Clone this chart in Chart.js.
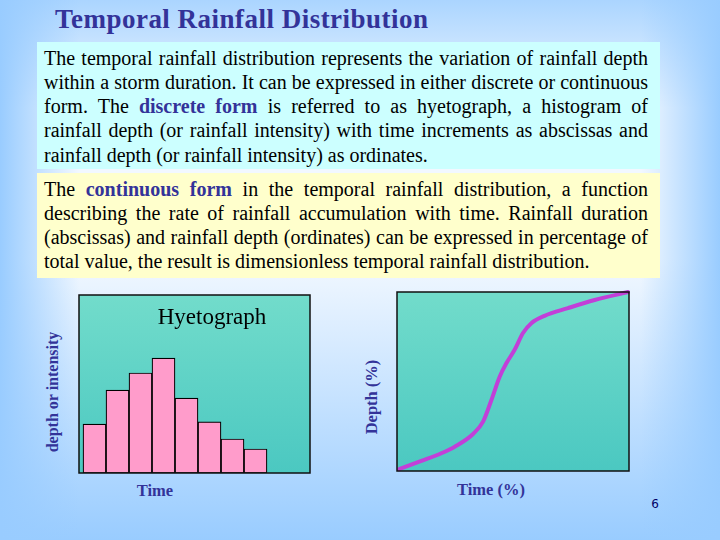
<!DOCTYPE html>
<html><head><meta charset="utf-8">
<script src="https://cdn.jsdelivr.net/npm/chart.js@4.4.1/dist/chart.umd.min.js"></script>
<style>
html,body{margin:0;padding:0;}
body{width:720px;height:540px;position:relative;overflow:hidden;
 background:
  linear-gradient(to right, rgba(153,204,255,1) 0%, rgba(153,204,255,0) 11%, rgba(153,204,255,0) 89%, rgba(153,204,255,1) 100%),
  linear-gradient(to bottom, rgba(153,204,255,0.8) 0%, rgba(153,204,255,0) 20%, rgba(153,204,255,0) 48%, rgba(153,204,255,1) 100%),
  #f2f8ff;
 font-family:"Liberation Serif","Times New Roman",serif;}
.abs{position:absolute;white-space:nowrap;}
#title{left:55px;top:4px;font-size:27px;font-weight:bold;color:#333399;line-height:30px;}
.box{position:absolute;left:37px;width:623px;}
#box1{top:42px;height:127px;background:#ccffff;}
#box2{top:173px;height:105px;background:#ffffcc;}
.ln{position:absolute;left:44px;width:604px;height:24px;line-height:24px;font-size:20px;color:#000;white-space:nowrap;}
.kw{color:#333399;font-weight:bold;}
.axt{position:absolute;white-space:nowrap;font-weight:bold;color:#333399;font-size:16.5px;transform:translate(-50%,-50%);}
.rot{transform:translate(-50%,-50%) rotate(-90deg);}
canvas{position:absolute;}
</style></head>
<body>
<div id="title" class="abs">Temporal Rainfall Distribution</div>
<div id="box1" class="box"></div>
<div id="box2" class="box"></div>
<div class="ln j" style="top:46px"><span>The temporal rainfall distribution represents the variation of rainfall depth</span></div>
<div class="ln j" style="top:70px"><span>within a storm duration. It can be expressed in either discrete or continuous</span></div>
<div class="ln j" style="top:94px"><span>form. The <span class="kw">discrete form</span> is referred to as hyetograph, a histogram of</span></div>
<div class="ln j" style="top:118px"><span>rainfall depth (or rainfall intensity) with time increments as abscissas and</span></div>
<div class="ln" style="top:143px"><span>rainfall depth (or rainfall intensity) as ordinates.</span></div>
<div class="ln j" style="top:177px"><span>The <span class="kw">continuous form</span> in the temporal rainfall distribution, a function</span></div>
<div class="ln j" style="top:201px"><span>describing the rate of rainfall accumulation with time. Rainfall duration</span></div>
<div class="ln j" style="top:225px"><span>(abscissas) and rainfall depth (ordinates) can be expressed in percentage of</span></div>
<div class="ln" style="top:249px"><span>total value, the result is dimensionless temporal rainfall distribution.</span></div>

<canvas id="c1" width="243" height="190" style="left:73px;top:289px;width:243px;height:190px"></canvas>
<canvas id="c2" width="244" height="191" style="left:391px;top:286px;width:244px;height:191px"></canvas>

<div class="abs" style="left:212px;top:317px;transform:translate(-50%,-50%);font-size:23px;color:#000;">Hyetograph</div>
<div class="axt rot" style="left:53px;top:392px;font-size:16px;">depth or intensity</div>
<div class="axt" style="left:155px;top:491px;">Time</div>
<div class="axt rot" style="left:372px;top:397px;">Depth (%)</div>
<div class="axt" style="left:491px;top:490px;">Time (%)</div>
<div class="abs" style="left:655px;top:504px;transform:translate(-50%,-50%);font-family:'DejaVu Sans',sans-serif;font-size:12px;color:#000066;">6</div>

<script>
// Hyetograph data (time increments and rainfall depth, relative units)
const timeSteps = [1, 2, 3, 4, 5, 6, 7, 8];
const rainDepth = [27.5, 46.6, 56.2, 64.6, 42.1, 28.7, 19.1, 13.5];
// Dimensionless cumulative curve (time % vs depth %)
const timePct  = [0.9, 10.5, 19.1, 24.9, 32.8, 37.1, 40.7, 44.3, 47.2, 50.7, 54.3, 57.9, 63.6, 73.7, 85.2, 99.6];
const depthPct = [1.0, 5.6, 9.9, 13.6, 20.7, 27.6, 39.7, 52.8, 60.3, 67.7, 77.1, 82.6, 86.7, 91.0, 95.5, 100];

// justify lines
document.querySelectorAll('.j').forEach(el => {
  const span = el.firstElementChild;
  const w = span.getBoundingClientRect().width;
  const spaces = (span.textContent.match(/ /g) || []).length;
  span.style.wordSpacing = ((604 - w) / spaces) + 'px';
});
(function(){
  const t = document.getElementById('title');
  const w = t.getBoundingClientRect().width;
  t.style.letterSpacing = ((373 - w) / (t.textContent.length - 1)) + 'px';
})();

const framePlugin = {
  id: 'frame',
  beforeDraw(c) {
    const {ctx, chartArea: {left, top, right, bottom}} = c;
    const g = ctx.createLinearGradient(0, top, 0, bottom);
    g.addColorStop(0, '#72dccb');
    g.addColorStop(1, '#4bc8c1');
    ctx.save();
    ctx.fillStyle = g;
    ctx.fillRect(left, top, right - left, bottom - top);
    ctx.restore();
  },
  afterDraw(c) {
    const {ctx, chartArea: {left, top, right, bottom}} = c;
    ctx.save();
    ctx.strokeStyle = '#111';
    ctx.lineWidth = 1.5;
    ctx.strokeRect(left, top, right - left, bottom - top);
    ctx.restore();
  }
};

new Chart(document.getElementById('c1'), {
  type: 'bar',
  data: {
    datasets: [{
      data: timeSteps.map((t, i) => ({x: t - 0.5, y: rainDepth[i]})),
      backgroundColor: '#ff9ccb',
      borderColor: '#000',
      borderWidth: 1.2,
      borderSkipped: false,
      barPercentage: 1,
      categoryPercentage: 1
    }]
  },
  options: {
    responsive: false, animation: false, devicePixelRatio: 1,
    layout: {padding: 6},
    plugins: {legend: {display: false}, tooltip: {enabled: false}},
    scales: {
      x: {type: 'linear', offset: false, grid: {offset: false}, min: -0.174, max: 9.87, display: false},
      y: {min: 0, max: 100, display: false}
    }
  },
  plugins: [framePlugin]
});

new Chart(document.getElementById('c2'), {
  type: 'scatter',
  data: {
    datasets: [{
      data: timePct.map((t, i) => ({x: t, y: depthPct[i]})),
      showLine: true,
      borderColor: '#c23fd8',
      borderWidth: 4,
      pointRadius: 0,
      cubicInterpolationMode: 'monotone',
      borderCapStyle: 'round',
      clip: false
    }]
  },
  options: {
    responsive: false, animation: false, devicePixelRatio: 1,
    layout: {padding: 6},
    plugins: {legend: {display: false}, tooltip: {enabled: false}},
    scales: {
      x: {type: 'linear', min: 0, max: 100, display: false},
      y: {min: 0, max: 100, display: false}
    }
  },
  plugins: [framePlugin]
});
</script>
</body></html>
